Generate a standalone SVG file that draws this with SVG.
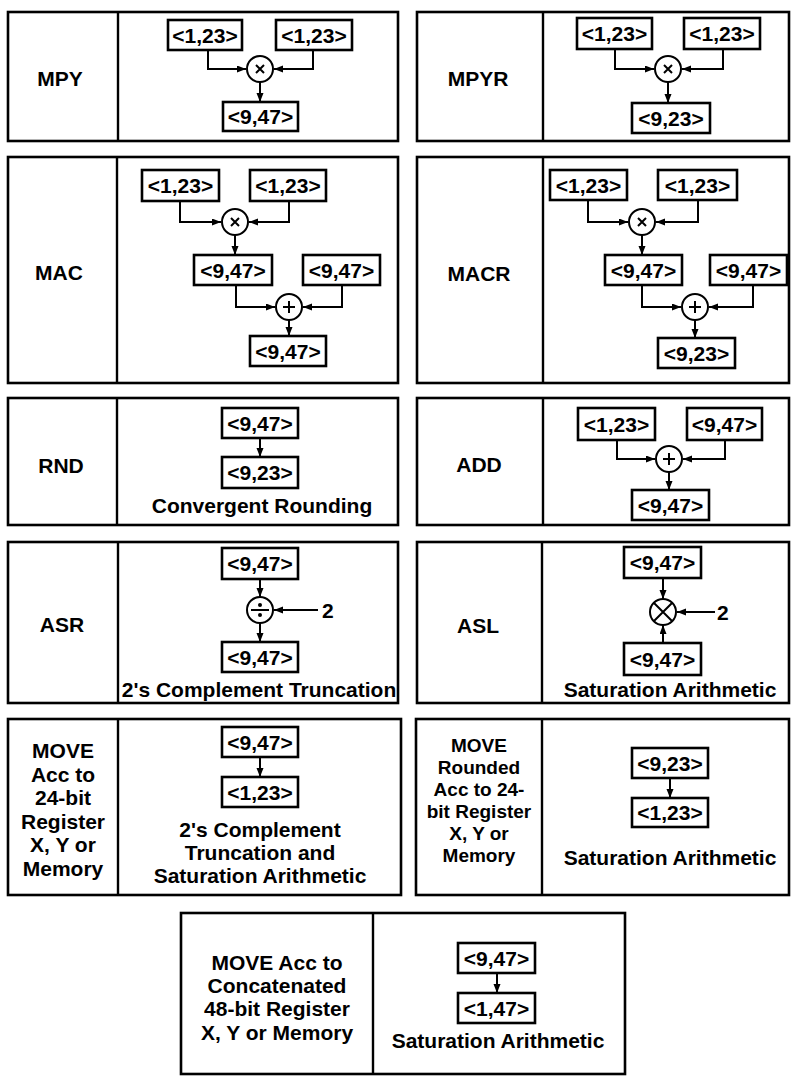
<svg xmlns="http://www.w3.org/2000/svg" width="792" height="1082" viewBox="0 0 792 1082">
<defs>
<marker id="ah" markerUnits="userSpaceOnUse" markerWidth="10" markerHeight="8" refX="9" refY="3.5" orient="auto">
<path d="M0,0 L9,3.5 L0,7 z" fill="#000"/>
</marker>
<style>
.panel{fill:#fff;stroke:#000;stroke-width:2.6}
.div{stroke:#000;stroke-width:2.4;fill:none}
.box{fill:#fff;stroke:#000;stroke-width:2.6}
.op{fill:#fff;stroke:#000;stroke-width:2}
.sym{stroke:#000;stroke-width:2;fill:none}
.con{stroke:#000;stroke-width:2;fill:none;marker-end:url(#ah)}
text{font-family:"Liberation Sans",Arial,sans-serif;font-weight:bold;font-size:21px;fill:#000}
.c{text-anchor:middle}
.s{font-size:19px}
</style>
</defs>
<rect width="792" height="1082" fill="#fff"/>

<!-- panels -->
<g id="panel-mpy">
<rect class="panel" x="8" y="12" width="390" height="129"/>
<line class="div" x1="118" y1="12" x2="118" y2="141"/>
<text class="c" x="60" y="86">MPY</text>
</g>
<g id="panel-mpyr">
<rect class="panel" x="417" y="12" width="372" height="129"/>
<line class="div" x1="543" y1="12" x2="543" y2="141"/>
<text class="c" x="478" y="86">MPYR</text>
</g>
<g id="panel-mac">
<rect class="panel" x="8" y="157" width="390" height="226"/>
<line class="div" x1="117" y1="157" x2="117" y2="383"/>
<text class="c" x="59" y="280">MAC</text>
</g>
<g id="panel-macr">
<rect class="panel" x="417" y="157" width="372" height="226"/>
<line class="div" x1="543" y1="157" x2="543" y2="383"/>
<text class="c" x="479" y="281">MACR</text>
</g>
<g id="panel-rnd">
<rect class="panel" x="8" y="398" width="390" height="127"/>
<line class="div" x1="117" y1="398" x2="117" y2="525"/>
<text class="c" x="61" y="473">RND</text>
</g>
<g id="panel-add">
<rect class="panel" x="417" y="398" width="372" height="127"/>
<line class="div" x1="543" y1="398" x2="543" y2="525"/>
<text class="c" x="479" y="472">ADD</text>
</g>
<g id="panel-asr">
<rect class="panel" x="8" y="542" width="390" height="161"/>
<line class="div" x1="118" y1="542" x2="118" y2="703"/>
<text class="c" x="62" y="632">ASR</text>
</g>
<g id="panel-asl">
<rect class="panel" x="417" y="542" width="372" height="161"/>
<line class="div" x1="542" y1="542" x2="542" y2="703"/>
<text class="c" x="478" y="633">ASL</text>
</g>
<g id="panel-move24">
<rect class="panel" x="8" y="719" width="393" height="176"/>
<line class="div" x1="118" y1="719" x2="118" y2="895"/>
<text class="c" x="63" y="758">MOVE</text>
<text class="c" x="63" y="782">Acc to</text>
<text class="c" x="63" y="805">24-bit</text>
<text class="c" x="63" y="829">Register</text>
<text class="c" x="63" y="852">X, Y or</text>
<text class="c" x="63" y="876">Memory</text>
</g>
<g id="panel-moverounded">
<rect class="panel" x="416" y="719" width="373" height="176"/>
<line class="div" x1="542" y1="719" x2="542" y2="895"/>
<text class="c s" x="479" y="752">MOVE</text>
<text class="c s" x="479" y="774">Rounded</text>
<text class="c s" x="479" y="796">Acc to 24-</text>
<text class="c s" x="479" y="818">bit Register</text>
<text class="c s" x="479" y="840">X, Y or</text>
<text class="c s" x="479" y="862">Memory</text>
</g>
<g id="panel-move48">
<rect class="panel" x="181" y="913" width="444" height="161"/>
<line class="div" x1="373" y1="913" x2="373" y2="1074"/>
<text class="c" x="277" y="970">MOVE Acc to</text>
<text class="c" x="277" y="993">Concatenated</text>
<text class="c" x="277" y="1016">48-bit Register</text>
<text class="c" x="277" y="1040">X, Y or Memory</text>
</g>

<!-- connectors -->
<g id="connectors">
<path class="con" d="M208,50 V69 H246"/>
<path class="con" d="M313,50 V69 H274"/>
<path class="con" d="M260,82 V102"/>

<path class="con" d="M615,49 V69 H654"/>
<path class="con" d="M723,49 V69 H682"/>
<path class="con" d="M668,82 V103"/>

<path class="con" d="M180,201 V222 H221"/>
<path class="con" d="M289,201 V222 H249"/>
<path class="con" d="M235,235 V255"/>
<path class="con" d="M236,285 V307 H275"/>
<path class="con" d="M342,285 V307 H303"/>
<path class="con" d="M289,320 V336"/>

<path class="con" d="M588,200 V222 H628"/>
<path class="con" d="M698,200 V222 H656"/>
<path class="con" d="M642,235 V255"/>
<path class="con" d="M642,285 V307 H681"/>
<path class="con" d="M753,285 V307 H709"/>
<path class="con" d="M695,320 V338"/>

<path class="con" d="M260,438 V457"/>

<path class="con" d="M617,440 V459 H655"/>
<path class="con" d="M725,440 V459 H683"/>
<path class="con" d="M669,472 V490"/>

<path class="con" d="M260,579 V597"/>
<path class="con" d="M318,610 H274"/>
<path class="con" d="M260,623 V642"/>

<path class="con" d="M663,578 V599"/>
<path class="con" d="M715,612 H677"/>
<path class="con" d="M663,643 V625"/>

<path class="con" d="M260,757 V777"/>
<path class="con" d="M670,778 V798"/>
<path class="con" d="M497,973 V993"/>
</g>

<!-- MPY nodes -->
<g id="mpy-a"><rect class="box" x="168" y="20" width="74" height="30"/><text class="c" x="205" y="43">&lt;1,23&gt;</text></g>
<g id="mpy-b"><rect class="box" x="276" y="20" width="76" height="30"/><text class="c" x="314" y="43">&lt;1,23&gt;</text></g>
<g id="mpy-op"><circle class="op" cx="260" cy="69" r="13"/><path class="sym" d="M256,65 L264,73 M264,65 L256,73"/></g>
<g id="mpy-out"><rect class="box" x="223" y="102" width="75" height="29"/><text class="c" x="260.5" y="124">&lt;9,47&gt;</text></g>

<!-- MPYR nodes -->
<g id="mpyr-a"><rect class="box" x="577" y="18" width="75" height="31"/><text class="c" x="614.5" y="41">&lt;1,23&gt;</text></g>
<g id="mpyr-b"><rect class="box" x="684" y="18" width="76" height="31"/><text class="c" x="722" y="41">&lt;1,23&gt;</text></g>
<g id="mpyr-op"><circle class="op" cx="668" cy="69" r="13"/><path class="sym" d="M664,65 L672,73 M672,65 L664,73"/></g>
<g id="mpyr-out"><rect class="box" x="632" y="103" width="78" height="30"/><text class="c" x="671" y="126">&lt;9,23&gt;</text></g>

<!-- MAC nodes -->
<g id="mac-a"><rect class="box" x="142" y="170" width="77" height="31"/><text class="c" x="180.5" y="193">&lt;1,23&gt;</text></g>
<g id="mac-b"><rect class="box" x="250" y="170" width="76" height="31"/><text class="c" x="288" y="193">&lt;1,23&gt;</text></g>
<g id="mac-mul"><circle class="op" cx="235" cy="222" r="13"/><path class="sym" d="M231,218 L239,226 M239,218 L231,226"/></g>
<g id="mac-p"><rect class="box" x="194" y="255" width="78" height="30"/><text class="c" x="233" y="278">&lt;9,47&gt;</text></g>
<g id="mac-acc"><rect class="box" x="303" y="255" width="77" height="30"/><text class="c" x="341.5" y="278">&lt;9,47&gt;</text></g>
<g id="mac-add"><circle class="op" cx="289" cy="307" r="13"/><path class="sym" d="M283,307 H295 M289,301 V313"/></g>
<g id="mac-out"><rect class="box" x="250" y="336" width="76" height="30"/><text class="c" x="288" y="359">&lt;9,47&gt;</text></g>

<!-- MACR nodes -->
<g id="macr-a"><rect class="box" x="550" y="170" width="77" height="30"/><text class="c" x="588.5" y="193">&lt;1,23&gt;</text></g>
<g id="macr-b"><rect class="box" x="658" y="170" width="79" height="30"/><text class="c" x="697.5" y="193">&lt;1,23&gt;</text></g>
<g id="macr-mul"><circle class="op" cx="642" cy="222" r="13"/><path class="sym" d="M638,218 L646,226 M646,218 L638,226"/></g>
<g id="macr-p"><rect class="box" x="605" y="255" width="77" height="30"/><text class="c" x="643.5" y="278">&lt;9,47&gt;</text></g>
<g id="macr-acc"><rect class="box" x="710" y="255" width="77" height="30"/><text class="c" x="748.5" y="278">&lt;9,47&gt;</text></g>
<g id="macr-add"><circle class="op" cx="695" cy="307" r="13"/><path class="sym" d="M689,307 H701 M695,301 V313"/></g>
<g id="macr-out"><rect class="box" x="658" y="338" width="77" height="30"/><text class="c" x="696.5" y="361">&lt;9,23&gt;</text></g>

<!-- RND nodes -->
<g id="rnd-in"><rect class="box" x="222" y="408" width="76" height="30"/><text class="c" x="260" y="431">&lt;9,47&gt;</text></g>
<g id="rnd-out"><rect class="box" x="222" y="457" width="76" height="31"/><text class="c" x="260" y="480">&lt;9,23&gt;</text></g>
<text class="c" x="262" y="513">Convergent Rounding</text>

<!-- ADD nodes -->
<g id="add-a"><rect class="box" x="578" y="408" width="77" height="32"/><text class="c" x="616.5" y="432">&lt;1,23&gt;</text></g>
<g id="add-b"><rect class="box" x="687" y="408" width="75" height="32"/><text class="c" x="724.5" y="432">&lt;9,47&gt;</text></g>
<g id="add-op"><circle class="op" cx="669" cy="459" r="13"/><path class="sym" d="M663,459 H675 M669,453 V465"/></g>
<g id="add-out"><rect class="box" x="632" y="490" width="77" height="30"/><text class="c" x="670.5" y="513">&lt;9,47&gt;</text></g>

<!-- ASR nodes -->
<g id="asr-in"><rect class="box" x="222" y="548" width="76" height="31"/><text class="c" x="260" y="571">&lt;9,47&gt;</text></g>
<g id="asr-op"><circle class="op" cx="260" cy="610" r="13"/><path class="sym" d="M251,610 H269"/><circle cx="260" cy="605" r="2" fill="#000"/><circle cx="260" cy="615" r="2" fill="#000"/></g>
<text x="322" y="618">2</text>
<g id="asr-out"><rect class="box" x="222" y="642" width="76" height="30"/><text class="c" x="260" y="665">&lt;9,47&gt;</text></g>
<text class="c" x="259" y="697">2's Complement Truncation</text>

<!-- ASL nodes -->
<g id="asl-in"><rect class="box" x="624" y="547" width="77" height="31"/><text class="c" x="662.5" y="570">&lt;9,47&gt;</text></g>
<g id="asl-op"><circle class="op" cx="663" cy="612" r="13"/><path class="sym" d="M654,603 L672,621 M672,603 L654,621"/></g>
<text x="717" y="620">2</text>
<g id="asl-out"><rect class="box" x="624" y="643" width="77" height="32"/><text class="c" x="662.5" y="667">&lt;9,47&gt;</text></g>
<text class="c" x="670" y="697">Saturation Arithmetic</text>

<!-- MOVE 24-bit nodes -->
<g id="m24-in"><rect class="box" x="222" y="727" width="76" height="30"/><text class="c" x="260" y="750">&lt;9,47&gt;</text></g>
<g id="m24-out"><rect class="box" x="222" y="777" width="76" height="30"/><text class="c" x="260" y="800">&lt;1,23&gt;</text></g>
<text class="c" x="260" y="837">2's Complement</text>
<text class="c" x="260" y="860">Truncation and</text>
<text class="c" x="260" y="883">Saturation Arithmetic</text>

<!-- MOVE rounded nodes -->
<g id="mr-in"><rect class="box" x="632" y="748" width="76" height="30"/><text class="c" x="670" y="771">&lt;9,23&gt;</text></g>
<g id="mr-out"><rect class="box" x="632" y="798" width="76" height="29"/><text class="c" x="670" y="820">&lt;1,23&gt;</text></g>
<text class="c" x="670" y="865">Saturation Arithmetic</text>

<!-- MOVE 48-bit nodes -->
<g id="m48-in"><rect class="box" x="458" y="943" width="77" height="30"/><text class="c" x="496.5" y="966">&lt;9,47&gt;</text></g>
<g id="m48-out"><rect class="box" x="458" y="993" width="77" height="30"/><text class="c" x="496.5" y="1016">&lt;1,47&gt;</text></g>
<text class="c" x="498" y="1048">Saturation Arithmetic</text>
</svg>
